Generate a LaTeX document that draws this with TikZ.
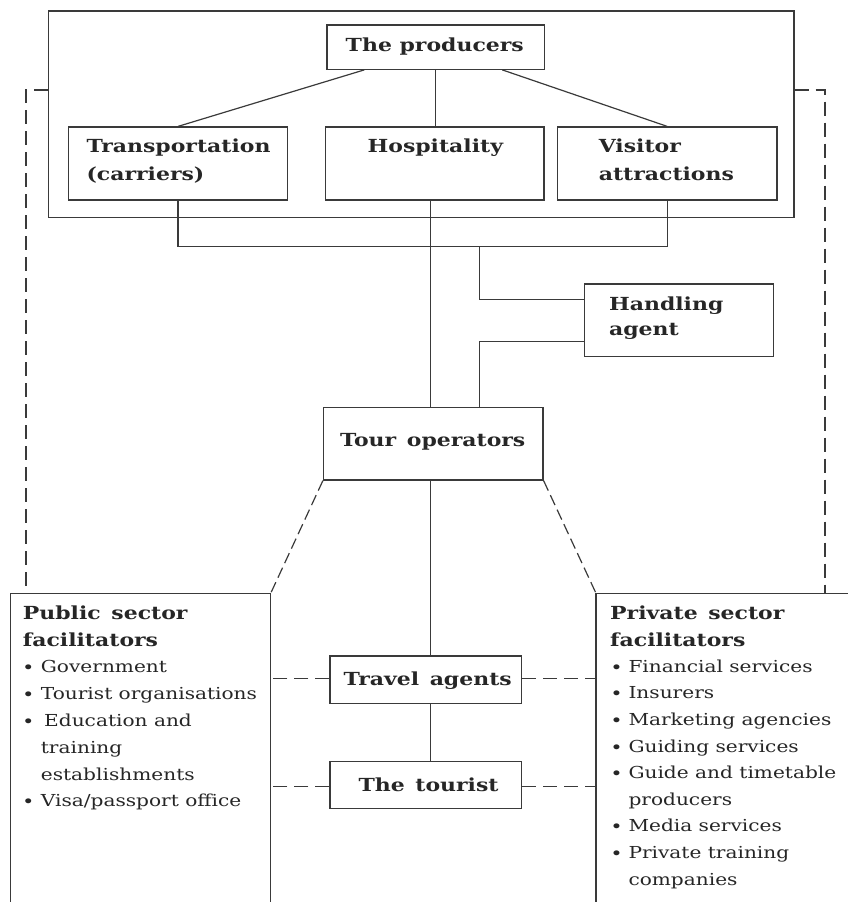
\documentclass[tikz,border=0pt]{standalone}
\usepackage{fontspec}
\setmainfont{DejaVu Serif}[FakeStretch=1.22]
\usetikzlibrary{calc}
\definecolor{ink}{HTML}{262626}
\definecolor{rule}{HTML}{3A3A3A}
\begin{document}
\begin{tikzpicture}[x=1pt,y=-1pt,
  box/.style={draw=rule,line width=1.2pt,rectangle,inner sep=0pt},
  conn/.style={draw=rule,line width=1.2pt},
  dconn/.style={draw=rule,line width=1.2pt,dash pattern=on 14pt off 7pt},
  sconn/.style={draw=rule,line width=1.2pt,dash pattern=on 11pt off 5pt},
  title/.style={anchor=base west,inner sep=0pt,text=ink,font=\fontsize{18}{25}\selectfont\bfseries},
  item/.style={anchor=base west,inner sep=0pt,text=ink,font=\fontsize{16.5}{25}\selectfont},
  dot/.style={anchor=base,inner sep=0pt,text=ink,font=\fontsize{14}{14}\selectfont\bfseries}]
\useasboundingbox (0,0) rectangle (847,902);

% producers frame and its boxes
\node[box,minimum width=745.4pt,minimum height=206.7pt] (frame) at (421.3,114.35) {};
\node[box,minimum width=217.6pt,minimum height=44.3pt] (prod) at (435.8,47.15) {};
\node[box,minimum width=218.8pt,minimum height=73pt] (trans) at (178,163.5) {};
\node[box,minimum width=218.2pt,minimum height=73pt] (hosp) at (434.9,163.5) {};
\node[box,minimum width=219.5pt,minimum height=73pt] (visit) at (667.25,163.5) {};

% intermediaries
\node[box,minimum width=189pt,minimum height=72.7pt] (handl) at (679.1,320.35) {};
\node[box,minimum width=219.5pt,minimum height=72.7pt] (tour) at (433.25,443.65) {};
\node[box,minimum width=191.7pt,minimum height=47.3pt] (travel) at (425.85,679.65) {};
\node[box,minimum width=191.7pt,minimum height=46.6pt] (tourist) at (425.85,785) {};

% facilitator panels (open at the bottom)
\coordinate (pubNE) at (270.7,593.3);
\coordinate (pubNW) at (10.5,593.3);
\coordinate (privNW) at (596,593.3);
\coordinate (privNE) at (852,593.3);
\draw[conn] (pubNW |- 0,910) -- (pubNW) -- (pubNE) -- (pubNE |- 0,910);
\draw[conn] (privNW |- 0,910) -- (privNW) -- (privNE);

% texts in the boxes
\node[title] (tprod) at (345.5,51) {The producers};
\node[title] (ttrans1) at (86.4,152.7) {Transportation};
\node[title] (ttrans2) at (86.4,180) {(carriers)};
\node[title] (thosp) at (367.4,152.7) {Hospitality};
\node[title] (tvisit1) at (598.6,152.7) {Visitor};
\node[title] (tvisit2) at (598.6,180) {attractions};
\node[title] (thandl1) at (608.9,310) {Handling};
\node[title] (thandl2) at (608.9,335) {agent};
\node[title] (ttour) at (340,446.7) {Tour\ \,operators};
\node[title] (ttravel) at (343.3,685) {Travel\ \,agents};
\node[title] (ttourist) at (358.3,791.7) {The\ \,tourist};

% public sector list
\node[title] (pub1) at (22.7,619.3) {Public\ \,sector};
\node[title] (pub2) at (22.7,646) {facilitators};
\foreach \t/\y [count=\i] in {Government/672.7,Tourist organisations/699.3}{
  \node[dot] (pubd\i) at (28.3,\y) {•};
  \node[item] (pubi\i) at (40.7,\y) {\t};
}
\node[dot] (pubd4) at (28.3,726.7) {•};
\node[item] (pubi4) at (44,726.7) {Education and};
\node[item] (pubi5) at (40.7,753.3) {training};
\node[item] (pubi6) at (40.7,780) {establishments};
\node[dot] (pubd7) at (28.3,806.7) {•};
\node[item] (pubi7) at (40.7,806.7) {Visa/passport office};

% private sector list
\node[title] (priv1) at (610,619.3) {Private\ \,sector};
\node[title] (priv2) at (610,646) {facilitators};
\foreach \t/\y [count=\i] in {Financial services/672.2,Insurers/698.8,Marketing agencies/725.4,Guiding services/752,Guide and timetable/778.6,Media services/831.8,Private training/858.4}{
  \node[dot] (privd\i) at (616.7,\y) {•};
  \node[item] (privi\i) at (628.3,\y) {\t};
}
\node[item] (privx1) at (628.3,805.2) {producers};
\node[item] (privx2) at (628.3,885) {companies};

% producer links
\draw[conn] ($(prod.south west)!0.173!(prod.south east)$) -- (trans.north);
\draw[conn] (prod.south) -- (prod.south |- hosp.north);
\draw[conn] ($(prod.south west)!0.804!(prod.south east)$) -- (visit.north);

% collecting bus under the frame
\coordinate (bus) at (0,246.7);
\coordinate (spine) at (430.5,0);
\coordinate (hx) at (479.7,246.7);
\draw[conn] (trans.south) -- (trans.south |- bus) -- (visit.south |- bus) -- (visit.south);
\draw[conn] (hosp.south -| spine) -- (tour.north -| spine);
\draw[conn] (tour.south -| spine) -- (travel.north -| spine);
\draw[conn] (travel.south -| spine) -- (tourist.north -| spine);

% handling agent links
\draw[conn] (hx) |- ($(handl.west)+(0,-21)$);
\draw[conn] ($(handl.west)+(0,21.3)$) -| (hx |- tour.north);

% dashed links to the facilitators
\coordinate (lx) at (26,90);
\coordinate (rx) at (825,90);
\draw[dconn] (frame.west |- lx) -- (lx) -- (lx |- pubNW);
\draw[dconn] (frame.east |- rx) -- (rx) -- (rx |- privNW);
\draw[sconn] (tour.south west) -- (pubNE);
\draw[sconn] (tour.south east) -- (privNW);
\draw[dconn] ($(travel.west)+(0,-1.3)$) -- ($(travel.west -| pubNE)+(0,-1.3)$);
\draw[dconn] ($(travel.east)+(0,-1.3)$) -- ($(travel.east -| privNW)+(0,-1.3)$);
\draw[dconn] ($(tourist.west)+(0,1.7)$) -- ($(tourist.west -| pubNE)+(0,1.7)$);
\draw[dconn] ($(tourist.east)+(0,1.7)$) -- ($(tourist.east -| privNW)+(0,1.7)$);
\end{tikzpicture}
\end{document}
